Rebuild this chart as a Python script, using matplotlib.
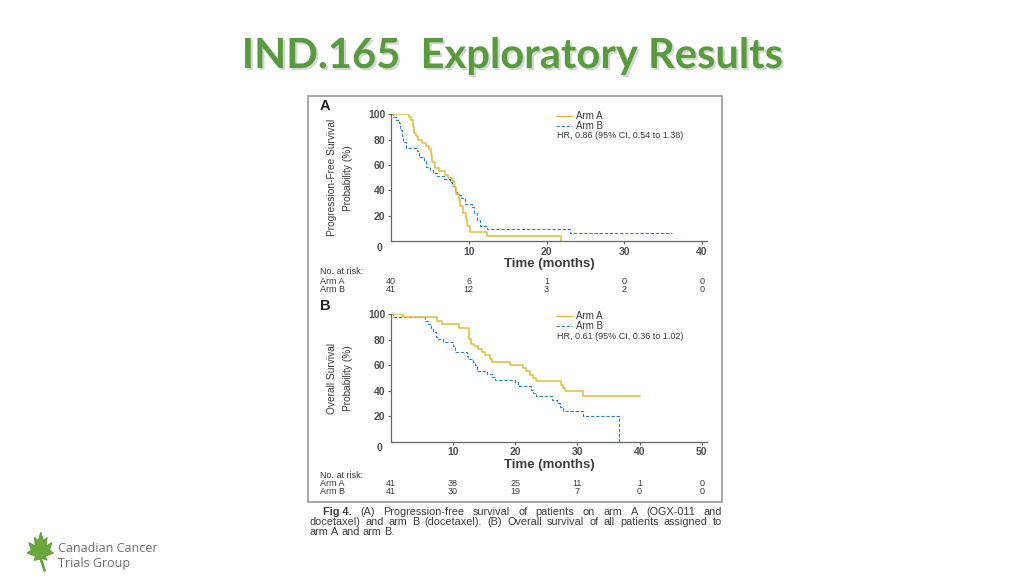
import matplotlib
matplotlib.use("Agg")
import matplotlib.pyplot as plt
import matplotlib.patheffects as pe
import matplotlib.transforms as mtransforms
from matplotlib.patches import Rectangle, Polygon
from matplotlib.lines import Line2D

# ---- data ----
pfs_a_t = [0, 2.3, 2.6, 2.8, 3.0, 3.2, 3.5, 4.0, 4.5, 4.9, 5.1, 5.3, 5.7, 6.2, 6.9,
           7.3, 7.8, 8.1, 8.4, 8.7, 8.9, 9.2, 9.6, 9.8, 10.1, 12.4, 21.8]
pfs_a_s = [100, 97.5, 95, 90, 85, 82.5, 80, 77.5, 75, 72.5, 67.5, 62.5, 57.5, 55, 52.5,
           50, 47.5, 42.5, 37.5, 32.5, 27.5, 22.5, 17.5, 12.5, 7.5, 4.5, 0]
pfs_b_t = [0, 0.3, 0.7, 1.0, 1.2, 1.4, 1.6, 1.9, 3.3, 3.6, 4.2, 4.5, 5.0, 5.4, 5.9,
           6.8, 7.6, 7.9, 8.2, 8.5, 9.0, 9.5, 10.4, 10.7, 11.0, 11.5, 12.3, 23.0, 36.1]
pfs_b_s = [100, 97.6, 95.1, 92.7, 87.8, 82.9, 78.0, 73.2, 70.7, 65.9, 63.4, 58.5, 56.1,
           53.7, 51.2, 48.8, 46.3, 43.9, 39.0, 36.6, 34.1, 29.3, 26.8, 22.0, 17.1, 12.2,
           9.8, 7.0, 7.0]

os_a_t = [0, 2.0, 7.4, 8.2, 11.0, 12.6, 12.9, 13.3, 14.0, 14.6, 15.1, 15.9, 16.2, 19.1,
          21.2, 21.8, 22.4, 22.9, 23.4, 27.4, 27.7, 28.0, 30.9, 40.1]
os_a_s = [100, 97.5, 95, 92.5, 89.5, 81, 77, 75, 73, 70.5, 68, 65, 62.5, 60.5, 58, 55.5,
          52.5, 50, 47.5, 44.5, 42, 39.5, 35.5, 35.5]
os_b_t = [0, 0.4, 5.4, 6.0, 6.5, 6.8, 7.2, 7.6, 8.4, 9.9, 10.3, 12.2, 12.4, 13.2, 13.5,
          13.8, 15.4, 16.2, 16.7, 20.0, 20.5, 22.5, 22.9, 23.4, 25.9, 26.7, 27.2, 27.7,
          30.9, 36.75]
os_b_s = [100, 97.5, 95, 92.5, 88.5, 86, 82, 80.5, 78, 75, 70.5, 67, 65, 62.5, 60, 55.5,
          53.5, 51, 48.5, 46.5, 44, 40.5, 38, 36, 32.5, 30.5, 27.5, 24, 20, 0]

pfs_risk_t = [0, 10, 20, 30, 40]
pfs_risk_a = [40, 6, 1, 0, 0]
pfs_risk_b = [41, 12, 3, 2, 0]
os_risk_t = [0, 10, 20, 30, 40, 50]
os_risk_a = [41, 38, 25, 11, 1, 0]
os_risk_b = [41, 30, 19, 7, 0, 0]

YELLOW = "#e2bc3c"
BLUE = "#2a85c2"
AXC = "#666666"
TXT = "#3c3c3c"
FONT = ["Liberation Sans", "DejaVu Sans"]

W, H = 1024, 576
fig = plt.figure(figsize=(W / 100, H / 100), dpi=100)
fig.patch.set_facecolor("white")


def fx(px):
    return px / W


def fy(py):
    return 1 - py / H


# title
fig.text(0.5, fy(56), "IND.165  Exploratory Results", ha="center", va="center",
         fontsize=30, fontweight="bold", color="#5a9a3e", family=["Lato", "DejaVu Sans"],
         path_effects=[pe.withSimplePatchShadow(offset=(1.5, -1.5), shadow_rgbFace="#888888",
                                                alpha=0.35)])

# frame around the journal figure
fig.patches.append(Rectangle((fx(308), fy(502)), fx(414), 406 / H, transform=fig.transFigure,
                             fill=False, edgecolor="#a0a0a0", lw=1.3))


def km_panel(rect, xmax, xticks, curves, letter, ylabel1, hr, risk_t, risk_a, risk_b, risk_y):
    ax = fig.add_axes(rect)
    for t, s, color, ls, lw in curves:
        ax.step(t, s, where="post", color=color, linestyle=ls, lw=lw)
    ax.set_xlim(0, xmax)
    ax.set_ylim(0, 100)
    ax.set_xticks(xticks[1:])
    ax.set_yticks([20, 40, 60, 80, 100])
    for side in ("top", "right"):
        ax.spines[side].set_visible(False)
    for side in ("left", "bottom"):
        ax.spines[side].set_color(AXC)
        ax.spines[side].set_linewidth(0.9)
    ax.tick_params(direction="out", length=2.5, width=0.8, color=AXC, pad=1.5,
                   labelsize=7.5, labelcolor="#505050")
    for lab in ax.get_xticklabels() + ax.get_yticklabels():
        lab.set_fontweight("bold")
        lab.set_family(FONT)
    ax.annotate("0", xy=(0, 0), xytext=(-8, -4.5), textcoords="offset points",
                ha="center", va="center", fontsize=7.5, fontweight="bold", color="#505050",
                family=FONT)
    ax.set_xlabel("Time (months)", fontsize=9.5, fontweight="bold", color=TXT, family=FONT,
                  labelpad=1)

    bb = ax.get_position()
    yc = (bb.y0 + bb.y1) / 2
    fig.text(fx(332), yc, ylabel1, rotation=90, ha="center", va="center", fontsize=7.3,
             color=TXT, family=FONT)
    fig.text(fx(348), yc, "Probability (%)", rotation=90, ha="center", va="center",
             fontsize=7.3, color=TXT, family=FONT)
    fig.text(fx(320), bb.y1 + 8 / H, letter, ha="left", va="center", fontsize=10.5,
             fontweight="bold", color="#222222", family=FONT)

    handles = [Line2D([], [], color=YELLOW, lw=1.0),
               Line2D([], [], color=BLUE, lw=0.8, linestyle=(0, (3, 1.5)))]
    ax.legend(handles, ["Arm A", "Arm B"], loc="upper left",
              bbox_to_anchor=(fx(556), bb.y1 + 3 / H), bbox_transform=fig.transFigure,
              frameon=False, prop={"family": FONT, "size": 7}, labelcolor=TXT,
              handlelength=1.6, handletextpad=0.5, labelspacing=0.0, borderpad=0,
              borderaxespad=0)
    fig.text(fx(557), bb.y1 - 22 / H, hr, ha="left", va="center", fontsize=6.5,
             color=TXT, family=FONT)

    # number at risk table
    tr = mtransforms.blended_transform_factory(ax.transData, fig.transFigure)
    y0, y1, y2 = risk_y
    fig.text(fx(320), fy(y0), "No. at risk:", ha="left", va="center", fontsize=6.5,
             color=TXT, family=FONT)
    fig.text(fx(320), fy(y1), "Arm A", ha="left", va="center", fontsize=6.5, color=TXT,
             family=FONT)
    fig.text(fx(320), fy(y2), "Arm B", ha="left", va="center", fontsize=6.5, color=TXT,
             family=FONT)
    for t, a, b in zip(risk_t, risk_a, risk_b):
        ax.text(t, fy(y1), str(a), transform=tr, ha="center", va="center", fontsize=6.5,
                color=TXT, family=FONT)
        ax.text(t, fy(y2), str(b), transform=tr, ha="center", va="center", fontsize=6.5,
                color=TXT, family=FONT)
    return ax


dash = (0, (3, 1.6))
km_panel([fx(391), fy(241.5), fx(315.7), 127.5 / H], 40.6, pfs_risk_t,
         [(pfs_b_t, pfs_b_s, BLUE, dash, 0.8), (pfs_a_t, pfs_a_s, YELLOW, "-", 1.1)],
         "A", "Progression-Free Survival", "HR, 0.86 (95% CI, 0.54 to 1.38)",
         pfs_risk_t, pfs_risk_a, pfs_risk_b, (272, 282, 290))
km_panel([fx(391), fy(441.7), fx(315.7), 127.4 / H], 50.8, os_risk_t,
         [(os_b_t, os_b_s, BLUE, dash, 0.8), (os_a_t, os_a_s, YELLOW, "-", 1.1)],
         "B", "Overall Survival", "HR, 0.61 (95% CI, 0.36 to 1.02)",
         os_risk_t, os_risk_a, os_risk_b, (475, 484, 492))

# caption, justified like the journal
renderer = fig.canvas.get_renderer()


def caption_line(tokens, x0, x1, y, justify=True):
    texts = [fig.text(0, fy(y), w, fontsize=7.8, fontweight=wt, color=TXT, family=FONT,
                      va="center", ha="left") for w, wt in tokens]
    widths = [t.get_window_extent(renderer).width for t in texts]
    if justify:
        gap = (x1 - x0 - sum(widths)) / (len(texts) - 1)
    else:
        gap = 3.0
    x = x0
    for t, w in zip(texts, widths):
        t.set_x(fx(x))
        x += w + gap


line1 = "(A) Progression-free survival of patients on arm A (OGX-011 and".split()
line2 = "docetaxel) and arm B (docetaxel). (B) Overall survival of all patients assigned to".split()
line3 = "arm A and arm B.".split()
caption_line([("Fig 4.", "bold")] + [(w, "normal") for w in line1], 323, 722, 512)
caption_line([(w, "normal") for w in line2], 309, 722, 522)
caption_line([(w, "normal") for w in line3], 309, 722, 532, justify=False)

# logo
lax = fig.add_axes([fx(24), fy(573), fx(32), 42 / H])
lax.set_xlim(-1, 1)
lax.set_ylim(-1, 1)
lax.axis("off")
leaf = [(0.05, 0.95), (0.22, 0.55), (0.45, 0.7), (0.38, 0.3), (0.75, 0.45), (0.6, 0.1),
        (0.85, -0.05), (0.35, -0.2), (0.45, -0.4), (0.1, -0.3), (0.35, -0.9), (0.25, -0.92),
        (0.0, -0.35), (-0.35, -0.4), (-0.3, -0.2), (-0.8, -0.05), (-0.55, 0.1), (-0.7, 0.45),
        (-0.3, 0.3), (-0.35, 0.7), (-0.12, 0.55)]
lax.add_patch(Polygon(leaf, closed=True, facecolor="#6aa83c", edgecolor="#4f8f2a", lw=0.5))
fig.text(fx(58), fy(549), "Canadian Cancer", ha="left", va="center", fontsize=9,
         color="#6e6e6e", family=["Open Sans", "DejaVu Sans"])
fig.text(fx(58), fy(564), "Trials Group", ha="left", va="center", fontsize=9,
         color="#6e6e6e", family=["Open Sans", "DejaVu Sans"])

fig.savefig("out.png", dpi=100, facecolor="white")
